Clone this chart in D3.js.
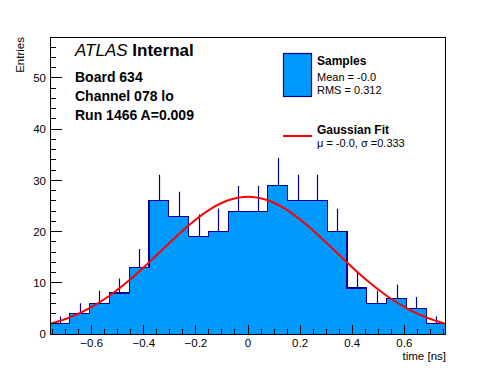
<!DOCTYPE html>
<html><head><meta charset="utf-8">
<script src="https://cdn.jsdelivr.net/npm/d3@7"></script>
<style>
html,body{margin:0;padding:0;background:#fff;}
svg{display:block;font-family:"Liberation Sans",Arial,Helvetica,sans-serif;}
</style></head>
<body>
<script>
// ---- data ----
const binLow = -0.76;
const binHigh = 0.76;
const binCounts = [2,4,6,8,13,26,23,19,20,24,24,29,26,26,20,9,6,7,5,2];
const fitTimes = [-0.76,-0.684,-0.608,-0.532,-0.456,-0.38,-0.304,-0.228,-0.152,-0.076,0,0.076,0.152,0.228,0.304,0.38,0.456,0.532,0.608,0.684,0.76];
const fitValues = [1.98,3.25,5.06,7.48,10.50,13.98,17.67,21.20,24.15,26.11,26.80,26.11,24.15,21.20,17.67,13.98,10.50,7.48,5.06,3.25,1.98];
const xMajorTicks = [-0.6,-0.4,-0.2,0,0.2,0.4,0.6];
const xTickLabels = ["\u22120.6","\u22120.4","\u22120.2","0","0.2","0.4","0.6"];
const xMinorTicks = [-0.75,-0.7,-0.65,-0.55,-0.5,-0.45,-0.35,-0.3,-0.25,-0.15,-0.1,-0.05,0.05,0.1,0.15,0.25,0.3,0.35,0.45,0.5,0.55,0.65,0.7,0.75];
const yMajorTicks = [0,10,20,30,40,50];
const yMinorTicks = [2,4,6,8,12,14,16,18,22,24,26,28,32,34,36,38,42,44,46,48,52,54,56,58];
const yMax = 58;
const infoLines = ["Board 634","Channel 078 lo","Run 1466 A=0.009"];
const legendSamples = ["Samples","Mean = -0.0","RMS = 0.312"];
const legendFit = ["Gaussian Fit","\u03bc = -0.0, \u03c3 =0.333"];

// ---- layout ----
const W = 496, H = 372;
const L = 50, R = 446, T = 37, B = 334;
const fill = "#0099ff", edge = "#000099", red = "#ff0000";

const svg = d3.select("body").append("svg").attr("width", W).attr("height", H);
svg.append("rect").attr("width", W).attr("height", H).attr("fill", "#fff");

const x = d3.scaleLinear().domain([binLow, binHigh]).range([L, R]);
const y = d3.scaleLinear().domain([0, yMax]).range([B, T]);

const nb = binCounts.length;
const bw = (binHigh - binLow) / nb;
const bins = binCounts.map((c, i) => ({x0: binLow + i * bw, x1: binLow + (i + 1) * bw, c}));

// filled bars
svg.append("g").selectAll("rect").data(bins).join("rect")
  .attr("x", d => x(d.x0)).attr("width", d => x(d.x1) - x(d.x0))
  .attr("y", d => y(d.c)).attr("height", d => y(0) - y(d.c))
  .attr("fill", fill).attr("shape-rendering", "crispEdges");

// outline step
const stepPts = [];
bins.forEach(d => { stepPts.push([x(d.x0), y(d.c)]); stepPts.push([x(d.x1), y(d.c)]); });
svg.append("path").attr("d", d3.line()(stepPts))
  .attr("fill", "none").attr("stroke", edge).attr("stroke-width", 1.2).attr("shape-rendering", "crispEdges");

// error bars (upper part)
svg.append("g").selectAll("line").data(bins).join("line")
  .attr("x1", d => Math.round(x((d.x0 + d.x1) / 2)) + 0.5).attr("x2", d => Math.round(x((d.x0 + d.x1) / 2)) + 0.5)
  .attr("y1", d => y(d.c)).attr("y2", d => y(d.c + Math.sqrt(d.c)))
  .attr("stroke", edge).attr("stroke-width", 1.2);

// fit curve
const fitPts = fitTimes.map((t, i) => [t, fitValues[i]]);
svg.append("path")
  .attr("d", d3.line().x(d => x(d[0])).y(d => y(d[1])).curve(d3.curveCatmullRom)(fitPts))
  .attr("fill", "none").attr("stroke", red).attr("stroke-width", 2);

// frame
svg.append("rect").attr("x", L + 0.5).attr("y", T + 0.5).attr("width", R - L - 1).attr("height", B - T)
  .attr("fill", "none").attr("stroke", "#000").attr("stroke-width", 1).attr("shape-rendering", "crispEdges");

// ticks
const axG = svg.append("g").attr("stroke", "#000").attr("shape-rendering", "crispEdges");
xMajorTicks.forEach(t => axG.append("line").attr("x1", x(t)).attr("x2", x(t)).attr("y1", B).attr("y2", B - 9));
xMinorTicks.forEach(t => axG.append("line").attr("x1", x(t)).attr("x2", x(t)).attr("y1", B).attr("y2", B - 5));
yMajorTicks.forEach(t => axG.append("line").attr("x1", L).attr("x2", L + 12).attr("y1", y(t)).attr("y2", y(t)));
yMinorTicks.forEach(t => axG.append("line").attr("x1", L).attr("x2", L + 6).attr("y1", y(t)).attr("y2", y(t)));

// tick labels
svg.append("g").selectAll("text").data(xMajorTicks).join("text")
  .attr("x", d => x(d)).attr("y", 347).attr("text-anchor", "middle")
  .attr("font-size", 11.5).text((d, i) => xTickLabels[i]);
svg.append("g").selectAll("text").data(yMajorTicks).join("text")
  .attr("x", 46).attr("y", d => y(d) + 4.2).attr("text-anchor", "end")
  .attr("font-size", 11.5).text(d => d);

// axis titles
svg.append("text").attr("x", 446).attr("y", 360).attr("text-anchor", "end").attr("font-size", 11.5).text("time [ns]");
svg.append("text").attr("transform", "translate(24,37) rotate(-90)").attr("text-anchor", "end").attr("font-size", 11.5).text("Entries");

// ATLAS label
const at = svg.append("text").attr("x", 75).attr("y", 56).attr("font-size", 17);
at.append("tspan").attr("font-style", "italic").text("ATLAS");
at.append("tspan").attr("font-weight", "bold").text(" Internal");
svg.append("g").selectAll("text").data(infoLines).join("text")
  .attr("x", 75).attr("y", (d, i) => 82 + i * 19).attr("font-size", 14).attr("font-weight", "bold").text(d => d);

// legend
svg.append("rect").attr("x", 283.5).attr("y", 53.5).attr("width", 28).attr("height", 43)
  .attr("fill", fill).attr("stroke", edge).attr("stroke-width", 1.2);
svg.append("text").attr("x", 317).attr("y", 65).attr("font-size", 12).attr("font-weight", "bold").text(legendSamples[0]);
svg.append("text").attr("x", 317).attr("y", 81).attr("font-size", 11).text(legendSamples[1]);
svg.append("text").attr("x", 317).attr("y", 93.5).attr("font-size", 11).text(legendSamples[2]);
svg.append("line").attr("x1", 283).attr("x2", 312).attr("y1", 136).attr("y2", 136).attr("stroke", red).attr("stroke-width", 2);
svg.append("text").attr("x", 317).attr("y", 134).attr("font-size", 12).attr("font-weight", "bold").text(legendFit[0]);
svg.append("text").attr("x", 317).attr("y", 146.5).attr("font-size", 11).text(legendFit[1]);
</script>
</body></html>
